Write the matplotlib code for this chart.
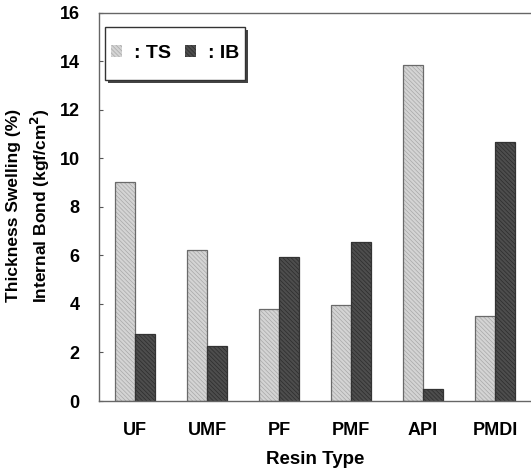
import numpy as np
import matplotlib
matplotlib.use('Agg')
from matplotlib import pyplot as plt
from matplotlib.patches import Rectangle

plt.rcParams['font.family'] = ['Liberation Sans', 'DejaVu Sans']
plt.rcParams['font.weight'] = 'bold'
plt.rcParams['hatch.linewidth'] = 0.5

resins = ['UF', 'UMF', 'PF', 'PMF', 'API', 'PMDI']
ts_vals = [9.0, 6.2, 3.8, 3.95, 13.85, 3.5]
ib_vals = [2.75, 2.28, 5.95, 6.56, 0.5, 10.65]

fig = plt.figure(figsize=(5.31, 4.74), dpi=100)
ax = fig.add_axes([99/531, 73/474, 432/531, 388.5/474])

x = np.arange(len(resins))
w = 0.28
hatch = '\\' * 8
# hatched fill (hatch colour follows edgecolor), then outline on top
ax.bar(x - w/2, ts_vals, w, color='#d4d4d4', edgecolor='#a8a8a8', hatch=hatch, lw=0, label=': TS')
ax.bar(x - w/2, ts_vals, w, fill=False, edgecolor='#6a6a6a', lw=0.9)
ax.bar(x + w/2, ib_vals, w, color='#4d4d4d', edgecolor='#2c2c2c', hatch=hatch, lw=0, label=': IB')
ax.bar(x + w/2, ib_vals, w, fill=False, edgecolor='#333333', lw=0.9)

ax.set_xlim(-0.5, 5.5)
ax.set_ylim(0, 16)
ax.set_yticks(range(0, 17, 2))
ax.set_xticks(x)
ax.set_xticklabels(resins, fontsize=13, fontweight='bold')
ax.tick_params(axis='x', length=0, pad=15)
ax.tick_params(axis='y', direction='in', length=3, labelsize=13, pad=14, color='#555555')
ax.spines['right'].set_visible(False)
for s in ax.spines.values():
    s.set_color('#666666')
    s.set_linewidth(1.0)

ax.set_xlabel('Resin Type', fontsize=13.5, fontweight='bold', labelpad=9)
ax.set_ylabel('Thickness Swelling (%)\nInternal Bond (kgf/cm$^\\mathbf{2}$)', fontsize=12.5,
              fontweight='bold', linespacing=1.45)
ax.yaxis.set_label_coords(-0.108, 0.503)

# legend box with drop shadow
bx, by, bw, bh = 0.014, 0.826, 0.324, 0.137
ax.add_patch(Rectangle((bx + 0.007, by - 0.008), bw, bh, transform=ax.transAxes,
                       facecolor='#444444', edgecolor='none', zorder=4))
ax.add_patch(Rectangle((bx, by), bw, bh, transform=ax.transAxes,
                       facecolor='white', edgecolor='#333333', lw=1.0, zorder=5))
leg = ax.legend(loc='center', bbox_to_anchor=(bx + bw/2, by + bh/2), ncol=2, frameon=False,
                fontsize=14, handlelength=0.6, handleheight=0.6, handletextpad=0.6,
                columnspacing=0.7, borderpad=0.2)
leg.set_zorder(6)
for t in leg.get_texts():
    t.set_fontweight('bold')

fig.savefig('out.png', dpi=100)
